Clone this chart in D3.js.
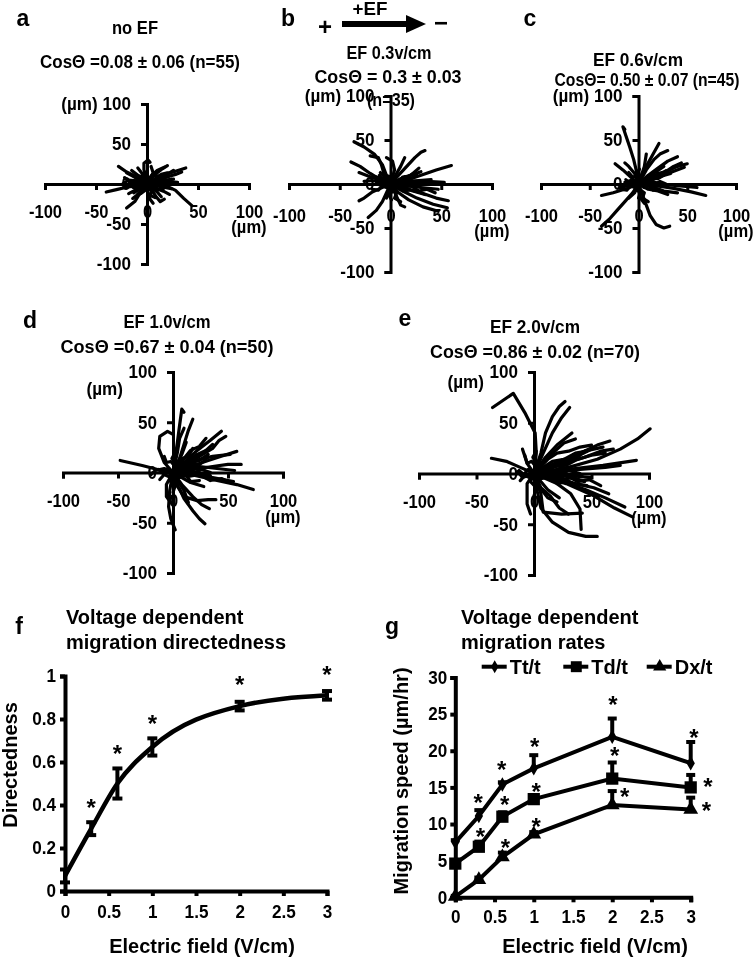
<!DOCTYPE html>
<html>
<head>
<meta charset="utf-8">
<script src="https://cdn.jsdelivr.net/npm/d3@7"></script>
<style>
body { margin: 0; background: #fff; }
svg { will-change: transform; }
svg text { font-family: "Liberation Sans", Arial, sans-serif; font-weight: bold; fill: #000; }
</style>
</head>
<body>
<svg id="fig" width="756" height="959"></svg>
<script>
// ---- data ----
const fields = [0, 0.3, 0.6, 1, 2, 3];                       // V/cm
const directedness = [0.07, 0.29, 0.50, 0.67, 0.86, 0.91];
const directednessErr = [0.03, 0.03, 0.07, 0.04, 0.02, 0.02];

const ttSpeed = [7.5, 11.1, 15.4, 17.6, 21.9, 18.3];          // um/hr
const ttErr = [0.3, 0.8, 0.3, 1.8, 2.5, 2.9];
const tdSpeed = [4.6, 6.9, 11.0, 13.4, 16.2, 15.0];
const tdErr = [0.3, 0.7, 0.6, 0.5, 2.2, 1.7];
const dxSpeed = [0.1, 2.4, 5.5, 8.6, 12.6, 12.0];
const dxErr = [0.1, 0.3, 0.6, 0.3, 1.9, 1.6];

// asterisk positions (field, value)
const starsF = [[0.3, 0.41], [0.6, 0.66], [1, 0.80], [2, 0.98], [3, 1.03]];
const starsG = [[0.29, 13.5], [0.59, 18.0], [1.01, 21.2], [2.01, 26.9], [3.04, 22.4],
                [0.32, 8.9], [0.63, 13.3], [1.03, 15.1], [2.03, 19.9], [3.22, 15.8],
                [0.64, 7.4], [1.03, 10.3], [2.16, 14.4], [3.20, 12.4]];

const trackTicks = [-100, -50, 0, 50, 100];
const fTicksX = [0, 0.5, 1, 1.5, 2, 2.5, 3];
const fTicksY = [0, 0.2, 0.4, 0.6, 0.8, 1];
const gTicksY = [0, 5, 10, 15, 20, 25, 30];

// cell tracks, um, each starting at the origin
const tracksA = [
    [[0,0],[-6,5],[-12,10],[-20,15],[-28,22]],
    [[0,0],[8,6],[18,12],[28,16],[38,20]],
    [[0,0],[10,4],[20,9],[28,12],[34,15]],
    [[0,0],[9,2],[18,5],[26,6]],
    [[0,0],[10,-1],[20,-3],[28,-8],[36,-18],[44,-27]],
    [[0,0],[-10,-2],[-20,-4],[-30,-7],[-40,-10]],
    [[0,0],[-3,-7],[-8,-14],[-12,-22],[-20,-30]],
    [[0,0],[5,-8],[9,-16],[13,-22],[17,-19]],
    [[0,0],[-1,9],[-3,18],[-3,26],[1,30],[3,27]],
    [[0,0],[-10,4],[-18,5],[-24,0],[-21,-5]],
    [[0,0],[4,10],[10,17],[17,21]],
    [[0,0],[-6,-5],[-13,-11]],
    [[0,0],[12,1],[22,3],[30,2]],
    [[0,0],[8,-5],[16,-9],[22,-13]],
    [[0,0],[-7,9],[-15,17]],
    [[0,0],[1,-10],[3,-19],[6,-24]],
    [[0,0],[14,9],[22,14],[26,17]],
    [[0,0],[-12,-8],[-18,-12]],
    [[0,0],[8,12],[15,19],[20,23]],
    [[0,0],[-4,12],[-9,20]],
    [[0,0],[-14,10],[-20,14]],
    [[0,0],[10,-10],[14,-16]],
    [[0,0],[-8,-1],[-16,2],[-22,8]],
    [[0,0],[6,14],[4,22]],
    [[0,0],[16,-4],[24,-6]],
    [[0,0],[-10,-14],[-14,-18]],
    [[0,0],[5,3],[3,8],[8,11],[12,9]],
    [[0,0],[-5,2],[-8,-3],[-12,-1]],
    [[0,0],[3,-4],[8,-3],[11,-7],[16,-6]],
    [[0,0],[-3,5],[-8,4],[-11,8]],
    [[0,0],[2,6],[7,5],[10,9],[14,12],[20,14]],
    [[0,0],[-4,-3],[-2,-8],[-6,-12]],
    [[0,0],[6,1],[10,-2],[15,1],[19,-2]],
    [[0,0],[-2,3],[-6,8],[-4,13]],
    [[0,0],[4,-2],[7,2],[12,4],[16,8],[22,10]],
    [[0,0],[-2,-4],[-6,-2],[-10,-6],[-14,-4]],
    [[0,0],[2,4],[-1,7],[-5,6],[-8,10]],
    [[0,0],[4,4],[9,1],[12,6],[18,3],[24,6]],
    [[0,0],[1,-5],[5,-9],[3,-14],[8,-17]],
    [[0,0],[-5,-1],[-9,3],[-15,1],[-19,5]]
];
const tracksB = [
    [[0,0],[-4,10],[-8,22],[-16,34],[-26,42],[-36,48]],
    [[0,0],[-6,10],[-9,22],[-12,30],[-20,32]],
    [[0,0],[-10,5],[-20,12],[-30,20],[-39,25]],
    [[0,0],[-12,5],[-22,9],[-31,13]],
    [[0,0],[8,10],[16,20],[24,30],[30,36],[34,38]],
    [[0,0],[5,10],[10,20],[14,30]],
    [[0,0],[15,4],[30,10],[45,16],[60,21]],
    [[0,0],[18,2],[36,3],[53,2]],
    [[0,0],[15,-5],[30,-10],[45,-16],[57,-19]],
    [[0,0],[12,-8],[26,-16],[42,-23],[56,-27]],
    [[0,0],[8,-10],[18,-18],[32,-26],[47,-31]],
    [[0,0],[-4,-10],[-8,-20],[-14,-30],[-22,-38]],
    [[0,0],[-10,-5],[-18,-9],[-26,-16],[-31,-19]],
    [[0,0],[14,3],[28,4],[40,5]],
    [[0,0],[14,-2],[30,-4],[47,-6]],
    [[0,0],[-8,2],[-18,4],[-26,3]],
    [[0,0],[10,6],[20,10],[30,14]],
    [[0,0],[6,-14],[10,-24],[14,-26]],
    [[0,0],[-6,6],[-14,8]],
    [[0,0],[-2,-8],[-4,-16]],
    [[0,0],[20,10],[28,18]],
    [[0,0],[4,16],[2,26],[-4,30]],
    [[0,0],[22,-8],[34,-12]],
    [[0,0],[5,4],[9,2],[14,6],[18,4]],
    [[0,0],[-5,3],[-9,-2],[-14,1]],
    [[0,0],[4,-5],[9,-3],[13,-8],[18,-7]],
    [[0,0],[-3,6],[-8,5],[-11,10]],
    [[0,0],[3,-8],[-2,-12],[1,-18]],
    [[0,0],[8,2],[12,8],[18,9],[24,13]],
    [[0,0],[6,-2],[10,2],[16,-1],[22,3],[28,0]],
    [[0,0],[-4,-4],[-8,-2],[-12,-7],[-18,-6]],
    [[0,0],[2,5],[-2,9],[-6,8],[-10,13]],
    [[0,0],[5,5],[10,2],[14,8],[20,6],[26,10]],
    [[0,0],[1,-6],[6,-10],[4,-16],[10,-20]],
    [[0,0],[12,-4],[20,-2],[28,-8],[36,-6],[44,-10]]
];
const tracksC = [
    [[0,0],[-2,14],[-5,28],[-9,42],[-13,55],[-16,65],[-14,62]],
    [[0,0],[4,12],[10,24],[16,36],[21,46]],
    [[0,0],[10,10],[20,18],[30,26],[40,31]],
    [[0,0],[14,8],[28,14],[40,20],[50,23]],
    [[0,0],[18,-2],[36,-5],[54,-9],[69,-13]],
    [[0,0],[20,0],[40,-2],[60,-4]],
    [[0,0],[-12,-5],[-26,-10],[-38,-13]],
    [[0,0],[-6,-10],[-14,-20],[-22,-30],[-30,-40],[-38,-48]],
    [[0,0],[4,-12],[8,-24],[12,-36],[18,-46],[26,-50],[32,-48]],
    [[0,0],[-8,8],[-16,16],[-24,23]],
    [[0,0],[12,4],[24,9],[33,12]],
    [[0,0],[14,6],[30,12],[47,19]],
    [[0,0],[8,16],[16,28],[22,34],[30,38]],
    [[0,0],[-8,4],[-14,2]],
    [[0,0],[10,-6],[20,-8],[30,-12]],
    [[0,0],[-4,-10],[-10,-16]],
    [[0,0],[6,20],[8,34]],
    [[0,0],[16,-4],[26,-8],[40,-10]],
    [[0,0],[-10,-2],[-20,-4]],
    [[0,0],[18,14],[26,20]],
    [[0,0],[2,-16],[6,-22]],
    [[0,0],[-4,12],[-10,20],[-14,24]],
    [[0,0],[5,5],[9,3],[14,8],[19,6]],
    [[0,0],[-4,4],[-9,1],[-13,5]],
    [[0,0],[6,-4],[11,-2],[15,-7],[21,-6]],
    [[0,0],[2,8],[-2,12],[1,17]],
    [[0,0],[-3,-6],[2,-10],[0,-16]],
    [[0,0],[10,2],[15,8],[22,10],[28,15]],
    [[0,0],[8,-1],[14,3],[22,0]],
    [[0,0],[6,-2],[10,2],[16,-1],[22,3],[28,0]],
    [[0,0],[-4,-4],[-8,-2],[-12,-7],[-18,-6]],
    [[0,0],[2,5],[-2,9],[-6,8],[-10,13]],
    [[0,0],[5,5],[10,2],[14,8],[20,6],[26,10]],
    [[0,0],[1,-6],[6,-10],[4,-16],[10,-20]],
    [[0,0],[12,6],[20,12],[28,14],[36,20],[44,24]]
];
const tracksD = [
    [[0,0],[2,15],[4,30],[6,47],[8,63],[10,60]],
    [[0,0],[6,14],[10,28],[14,42],[18,53]],
    [[0,0],[-8,10],[-13,24],[-12,36],[-5,41],[0,38]],
    [[0,0],[10,10],[22,22],[34,32],[44,41]],
    [[0,0],[12,8],[24,16],[36,24],[42,32],[48,36]],
    [[0,0],[16,6],[32,12],[46,17],[58,21]],
    [[0,0],[18,3],[36,6],[50,8],[62,8]],
    [[0,0],[20,-3],[40,-8],[58,-12],[73,-17]],
    [[0,0],[18,-2],[36,-5],[55,-9]],
    [[0,0],[-14,3],[-28,7],[-40,10],[-48,12]],
    [[0,0],[3,-12],[10,-24],[22,-28],[32,-27],[39,-27]],
    [[0,0],[5,-14],[10,-26],[18,-38],[24,-46],[29,-51]],
    [[0,0],[8,-12],[18,-24],[26,-32],[33,-36]],
    [[0,0],[-3,-18],[-4,-34],[-2,-46],[2,-57]],
    [[0,0],[-6,-12],[-6,-24],[-2,-30]],
    [[0,0],[14,12],[22,18],[30,22]],
    [[0,0],[20,12],[36,16],[52,18]],
    [[0,0],[16,-10],[28,-14]],
    [[0,0],[-8,4],[-16,2],[-20,-2]],
    [[0,0],[8,18],[12,30]],
    [[0,0],[24,6],[40,4],[56,2]],
    [[0,0],[10,-18],[14,-30]],
    [[0,0],[28,20],[36,28]],
    [[0,0],[6,5],[10,2],[16,8],[22,6]],
    [[0,0],[-5,4],[-9,-1],[-13,3]],
    [[0,0],[6,-5],[12,-3],[16,-9],[24,-8]],
    [[0,0],[3,9],[-1,14],[2,20]],
    [[0,0],[-3,-8],[2,-13],[0,-20]],
    [[0,0],[10,3],[16,10],[24,12],[32,18]],
    [[0,0],[9,-2],[16,2],[25,-1],[34,-3]],
    [[0,0],[4,6],[8,14],[14,16],[18,24]],
    [[0,0],[6,-2],[12,2],[18,-1],[26,3],[34,0]],
    [[0,0],[-4,-4],[-8,-2],[-12,-7]],
    [[0,0],[2,6],[-2,11],[-6,10],[-8,16]],
    [[0,0],[6,6],[12,3],[16,10],[24,8],[30,13]],
    [[0,0],[10,14],[16,22],[24,26],[30,34]],
    [[0,0],[14,-4],[24,-2],[34,-8],[44,-6],[52,-10]],
    [[0,0],[4,20],[6,34],[10,44]]
];
const tracksE = [
    [[0,0],[2,20],[1,40],[-8,60],[-18,79],[-36,65]],
    [[0,0],[6,20],[10,40],[16,56],[22,66],[27,71]],
    [[0,0],[8,20],[16,40],[24,55],[31,65]],
    [[0,0],[10,16],[20,28],[33,40]],
    [[0,0],[-12,6],[-24,12],[-37,15]],
    [[0,0],[20,10],[40,20],[55,28],[66,32]],
    [[0,0],[22,8],[44,16],[58,22],[69,24]],
    [[0,0],[30,6],[55,14],[75,24],[90,34],[101,44]],
    [[0,0],[30,4],[60,8],[89,13]],
    [[0,0],[25,-8],[45,-16],[62,-24],[79,-33]],
    [[0,0],[28,-10],[52,-22],[70,-34],[86,-43]],
    [[0,0],[3,-18],[6,-34],[16,-48],[30,-58],[45,-62],[55,-62]],
    [[0,0],[6,-20],[8,-38],[24,-40],[42,-39]],
    [[0,0],[20,-10],[32,-20],[40,-35],[41,-55]],
    [[0,0],[4,-12],[12,-24],[20,-28]],
    [[0,0],[20,2],[40,4],[62,6],[75,8]],
    [[0,0],[24,12],[44,22],[60,26]],
    [[0,0],[-6,10],[-10,24]],
    [[0,0],[18,-4],[36,-10],[52,-14],[65,-20]],
    [[0,0],[16,20],[26,30],[36,34]],
    [[0,0],[-6,-10],[-6,-30],[-3,-40]],
    [[0,0],[12,-16],[22,-24]],
    [[0,0],[36,16],[50,24]],
    [[0,0],[30,-2],[50,-4]],
    [[0,0],[-10,-4],[-14,2]],
    [[0,0],[6,5],[12,2],[18,8],[26,6]],
    [[0,0],[-5,4],[-9,-1],[-13,3]],
    [[0,0],[6,-5],[14,-3],[20,-10],[28,-8]],
    [[0,0],[3,9],[-1,16],[2,22]],
    [[0,0],[-3,-8],[2,-14],[0,-22]],
    [[0,0],[12,4],[20,10],[30,12],[40,18]],
    [[0,0],[10,-2],[20,2],[30,-1],[42,-3]],
    [[0,0],[8,6],[16,12],[26,14],[36,20],[46,22]],
    [[0,0],[14,-6],[24,-4],[34,-10],[46,-12]],
    [[0,0],[10,0],[22,-6],[34,-4],[44,-8]],
    [[0,0],[8,-2],[14,2],[22,-1],[30,3],[40,0]],
    [[0,0],[-4,-4],[-8,-2],[-12,-7]],
    [[0,0],[2,6],[-2,12],[-6,10],[-8,18]],
    [[0,0],[8,6],[14,3],[20,10],[28,8],[36,13]],
    [[0,0],[12,14],[20,20],[30,22],[40,26],[50,28]],
    [[0,0],[16,-4],[28,-2],[38,-8],[48,-6],[58,-12]],
    [[0,0],[14,8],[26,14],[38,14],[50,18],[62,20]],
    [[0,0],[6,-14],[14,-22],[22,-34],[30,-40]]
];

// ---- layout ----
const trackPanels = [
    {tracks: tracksA, xr: [45, 249], yr: [264, 104], xpad: 15, unitInline: true},
    {tracks: tracksB, xr: [289, 492], yr: [272, 96], xpad: 19, unitInline: true},
    {tracks: tracksC, xr: [541, 736], yr: [272, 96], xpad: 19, unitInline: true},
    {tracks: tracksD, xr: [63, 283], yr: [573, 372], xpad: 16, unitInline: false, unitDy: 23},
    {tracks: tracksE, xr: [419, 649], yr: [575, 372], xpad: 16, unitInline: false, unitDy: 16}
];

const svg = d3.select("#fig");

// squeeze a text to a share of its natural width, or to a given width
function squeeze(sel, k, w) {
    sel.each(function () {
        let nat = this.getComputedTextLength();
        if (nat <= 0) return;
        this.setAttribute("textLength", (w || nat * k).toFixed(1));
        this.setAttribute("lengthAdjust", "spacingAndGlyphs");
    });
}

function styleAxis(sel, w, k) {
    sel.attr("font-size", 18).attr("font-family", null);
    sel.select(".domain").attr("stroke-width", w);
    sel.selectAll(".tick line").attr("stroke-width", w);
    sel.selectAll(".tick text").call(squeeze, k);
}

function addText(x, y, str, size, anchor, w) {
    let t = svg.append("text").attr("x", x).attr("y", y)
        .attr("font-size", size).attr("text-anchor", anchor || "middle").text(str);
    if (w) t.call(squeeze, 1, w);
    return t;
}

function addStars(pts, sx, sy) {
    svg.append("g").selectAll("text").data(pts).join("text")
        .attr("x", d => sx(d[0])).attr("y", d => sy(d[1]) + 13)
        .attr("font-size", 24).attr("text-anchor", "middle").text("*");
}

trackPanels.forEach(function (p) {
    let x = d3.scaleLinear().domain([-100, 100]).range(p.xr);
    let y = d3.scaleLinear().domain([-100, 100]).range(p.yr);
    let g = svg.append("g");

    g.append("g").attr("transform", "translate(0," + y(0) + ")")
        .call(d3.axisBottom(x).tickValues(trackTicks).tickSize(6).tickPadding(p.xpad)
            .tickFormat(d => String(d)))
        .call(styleAxis, 3, 0.92);

    g.append("g").attr("transform", "translate(" + x(0) + ",0)")
        .call(d3.axisLeft(y).tickValues(trackTicks).tickSize(6).tickPadding(10)
            .tickFormat(d => (d === 100 && p.unitInline) ? "(\u00b5m) 100" : String(d)))
        .call(styleAxis, 3, 0.95);

    let line = d3.line().x(d => x(d[0])).y(d => y(d[1]));
    g.append("g").selectAll("path").data(p.tracks).join("path")
        .attr("d", line).attr("fill", "none").attr("stroke", "#000")
        .attr("stroke-width", 3.2).attr("stroke-linejoin", "round").attr("stroke-linecap", "round");

    // unit under the 100 label of the x axis
    addText(x(100), y(0) + p.xpad + 6 + 28, "(\u00b5m)", 18).call(squeeze, 0.92);
    if (!p.unitInline) {
        addText(x(0) - 50, y(100) + p.unitDy, "(\u00b5m)", 18, "end").call(squeeze, 0.95);
    }
});

// panel letters and headers
addText(23, 26, "a", 23);
addText(288, 26, "b", 23);
addText(530, 26, "c", 23);
addText(30, 328, "d", 23);
addText(405, 326, "e", 23);

addText(135, 34, "no EF", 18, "middle", 46);
addText(140, 68, "Cos\u0398 =0.08 \u00b1 0.06 (n=55)", 18, "middle", 200);

addText(370, 15, "+EF", 18, "middle", 35);
addText(325, 35, "+", 24);
addText(441, 31, "\u2212", 24);
svg.append("path").attr("d", "M342,24H410").attr("stroke", "#000").attr("stroke-width", 6);
svg.append("path").attr("d", "M406,15L426,24L406,33Z").attr("fill", "#000");
addText(389, 59, "EF 0.3v/cm", 18, "middle", 85);
addText(388, 83, "Cos\u0398 = 0.3 \u00b1 0.03", 18, "middle", 147);
addText(391, 106, "(n=35)", 18, "middle", 48);

addText(638, 66, "EF 0.6v/cm", 18, "middle", 90);
addText(647, 86, "Cos\u0398= 0.50 \u00b1 0.07  (n=45)", 18, "middle", 185);

addText(167, 328, "EF 1.0v/cm", 18, "middle", 87);
addText(167, 353, "Cos\u0398 =0.67 \u00b1 0.04  (n=50)", 18, "middle", 213);

addText(535, 333, "EF 2.0v/cm", 18, "middle", 90);
addText(535, 358, "Cos\u0398 =0.86 \u00b1 0.02  (n=70)", 18, "middle", 210);

// ---- f: directedness ----
const fx = d3.scaleLinear().domain([0, 3]).range([65, 327]);
const fy = d3.scaleLinear().domain([0, 1]).range([891, 676]);
const fPts = fields.map((f, i) => ({x: f, y: directedness[i], e: directednessErr[i]}));

svg.append("g").attr("transform", "translate(0," + fy(0) + ")")
    .call(d3.axisBottom(fx).tickValues(fTicksX).tickSize(5).tickPadding(9).tickFormat(d => String(d)))
    .call(styleAxis, 4, 0.95);
svg.append("g").attr("transform", "translate(" + fx(0) + ",0)")
    .call(d3.axisLeft(fy).tickValues(fTicksY).tickSize(5).tickPadding(4).tickFormat(d => String(d)))
    .call(styleAxis, 4, 0.95);

svg.append("path").datum(fPts)
    .attr("d", d3.line().x(d => fx(d.x)).y(d => fy(d.y)).curve(d3.curveMonotoneX))
    .attr("fill", "none").attr("stroke", "#000").attr("stroke-width", 4.5);

let fErr = svg.append("g").attr("stroke", "#000").attr("stroke-width", 4);
fErr.selectAll("line.v").data(fPts).join("line").attr("class", "v")
    .attr("x1", d => fx(d.x)).attr("x2", d => fx(d.x))
    .attr("y1", d => fy(d.y - d.e)).attr("y2", d => fy(d.y + d.e));
fErr.selectAll("line.t").data(fPts).join("line").attr("class", "t")
    .attr("x1", d => fx(d.x) - 5).attr("x2", d => fx(d.x) + 5)
    .attr("y1", d => fy(d.y + d.e)).attr("y2", d => fy(d.y + d.e));
fErr.selectAll("line.b").data(fPts).join("line").attr("class", "b")
    .attr("x1", d => fx(d.x) - 5).attr("x2", d => fx(d.x) + 5)
    .attr("y1", d => fy(d.y - d.e)).attr("y2", d => fy(d.y - d.e));

addStars(starsF, fx, fy);

addText(19, 634, "f", 23);
addText(66, 624, "Voltage dependent", 20, "start");
addText(66, 649, "migration directedness", 20, "start");
addText(202, 953, "Electric field (V/cm)", 20);
svg.append("text").attr("transform", "translate(16.5,765) rotate(-90)")
    .attr("font-size", 20).attr("text-anchor", "middle").text("Directedness");

// ---- g: migration rates ----
const gx = d3.scaleLinear().domain([0, 3]).range([455.3, 690.7]);
const gy = d3.scaleLinear().domain([0, 30]).range([897.3, 677.5]);

svg.append("g").attr("transform", "translate(0," + gy(0) + ")")
    .call(d3.axisBottom(gx).tickValues(fTicksX).tickSize(5).tickPadding(8).tickFormat(d => String(d)))
    .call(styleAxis, 4, 0.95);
svg.append("g").attr("transform", "translate(" + gx(0) + ",0)")
    .call(d3.axisLeft(gy).tickValues(gTicksY).tickSize(5).tickPadding(3).tickFormat(d => String(d)))
    .call(styleAxis, 4, 0.95);

const series = [
    {name: "Tt/t", vals: ttSpeed, errs: ttErr, sym: d3.symbolDiamond, size: 60},
    {name: "Td/t", vals: tdSpeed, errs: tdErr, sym: d3.symbolSquare, size: 150},
    {name: "Dx/t", vals: dxSpeed, errs: dxErr, sym: d3.symbolTriangle, size: 95}
];

series.forEach(function (s) {
    let pts = fields.map((f, i) => ({x: f, y: s.vals[i], e: s.errs[i]}));
    let g = svg.append("g");
    g.append("path").datum(pts)
        .attr("d", d3.line().x(d => gx(d.x)).y(d => gy(d.y)))
        .attr("fill", "none").attr("stroke", "#000").attr("stroke-width", 4);
    g.selectAll("line.v").data(pts).join("line").attr("class", "v")
        .attr("x1", d => gx(d.x)).attr("x2", d => gx(d.x))
        .attr("y1", d => gy(d.y)).attr("y2", d => gy(d.y + d.e))
        .attr("stroke", "#000").attr("stroke-width", 4);
    g.selectAll("line.t").data(pts).join("line").attr("class", "t")
        .attr("x1", d => gx(d.x) - 4.5).attr("x2", d => gx(d.x) + 4.5)
        .attr("y1", d => gy(d.y + d.e)).attr("y2", d => gy(d.y + d.e))
        .attr("stroke", "#000").attr("stroke-width", 4);
    g.selectAll("path.m").data(pts).join("path").attr("class", "m")
        .attr("transform", d => "translate(" + gx(d.x) + "," + gy(d.y) + ")")
        .attr("d", d3.symbol(s.sym, s.size)).attr("fill", "#000");
});

addStars(starsG, gx, gy);

// legend
const legendX = [481.7, 563.3, 646.7];
series.forEach(function (s, i) {
    let lx = legendX[i];
    svg.append("line").attr("x1", lx).attr("x2", lx + 25).attr("y1", 666.7).attr("y2", 666.7)
        .attr("stroke", "#000").attr("stroke-width", 4);
    svg.append("path").attr("transform", "translate(" + (lx + 13) + ",666.7)")
        .attr("d", d3.symbol(s.sym, s.size * 0.8)).attr("fill", "#000");
    addText(lx + 28, 674, s.name, 20, "start");
});

addText(392, 634, "g", 23);
addText(461, 624, "Voltage dependent", 20, "start");
addText(461, 649, "migration rates", 20, "start");
addText(595, 953, "Electric field (V/cm)", 20);
svg.append("text").attr("transform", "translate(408,781) rotate(-90)")
    .attr("font-size", 20).attr("text-anchor", "middle").text("Migration speed (\u00b5m/hr)");
</script>
</body>
</html>
